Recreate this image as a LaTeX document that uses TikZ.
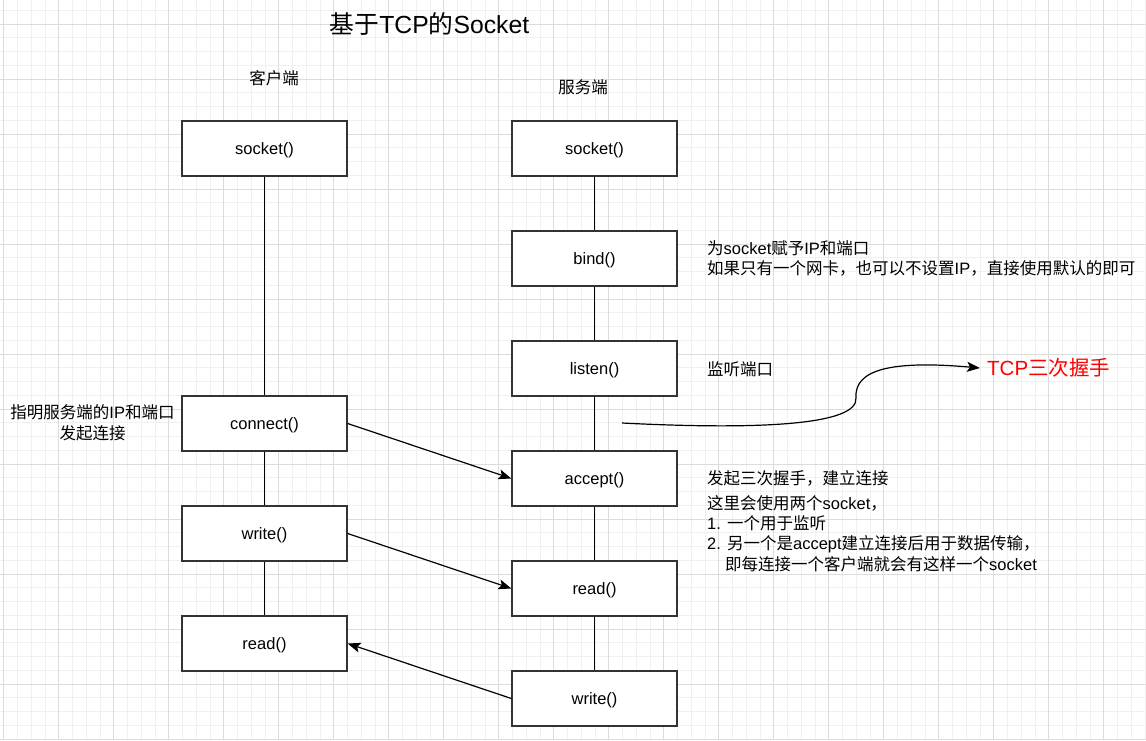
\documentclass[tikz,border=0pt]{standalone}
\usepackage{fontspec}
\setmainfont{Liberation Sans}
\newfontfamily\cjk{Noto Sans CJK SC}
\newcommand\zh[1]{{\cjk #1}}
\usetikzlibrary{arrows.meta}
\definecolor{gridminor}{HTML}{F0F0F0}
\definecolor{gridmajor}{HTML}{DCDCDC}
\definecolor{boxline}{HTML}{333333}
\tikzset{
  stepbox/.style={draw=boxline, line width=1.3pt, fill=white, minimum width=165pt, minimum height=55pt, inner sep=0pt, text height=13pt, text depth=1.4pt, font=\fontsize{16.5}{20}\selectfont},
  life/.style={draw=black, line width=1.3pt},
  msg/.style={draw=black, line width=1.2pt, -{Stealth[length=13pt,width=10pt,inset=3pt]}},
  note/.style={anchor=west, inner sep=0pt, font=\fontsize{16.5}{20}\selectfont},
  lbl/.style={inner sep=0pt, font=\fontsize{16.5}{20}\selectfont},
}
\begin{document}
\begin{tikzpicture}[x=1pt,y=-1pt]
\useasboundingbox (0,0) rectangle (1146,740);
\fill[white] (0,0) rectangle (1146,740);
% grid
\foreach \i in {0,...,84} {
  \draw[gridminor, line width=0.8pt] ({3.7+13.75*\i},0) -- ({3.7+13.75*\i},740);
}
\foreach \j in {0,...,54} {
  \draw[gridminor, line width=0.8pt] (0,{10.25+13.75*\j}) -- (1146,{10.25+13.75*\j});
}
\foreach \i in {0,...,21} {
  \draw[gridmajor, line width=0.8pt] ({3.7+55*\i},0) -- ({3.7+55*\i},740);
}
\foreach \j in {0,...,13} {
  \draw[gridmajor, line width=0.8pt] (0,{24+55*\j}) -- (1146,{24+55*\j});
}
% titles
\node[inner sep=0pt, font=\fontsize{24.75}{28}\selectfont] (title) at (429.5,24) {\zh{基于}TCP\zh{的}Socket};
\node[lbl] (client) at (274,78) {\zh{客户端}};
\node[lbl] (server) at (583,87) {\zh{服务端}};
% client boxes
\node[stepbox] (csocket) at (264.5,148.5) {socket()};
\node[stepbox] (cconnect) at (264.5,423.5) {connect()};
\node[stepbox] (cwrite) at (264.5,533.5) {write()};
\node[stepbox] (cread) at (264.5,643.5) {read()};
% server boxes
\node[stepbox] (ssocket) at (594.5,148.5) {socket()};
\node[stepbox] (sbind) at (594.5,258.5) {bind()};
\node[stepbox] (slisten) at (594.5,368.5) {listen()};
\node[stepbox] (saccept) at (594.5,478.5) {accept()};
\node[stepbox] (sread) at (594.5,588.5) {read()};
\node[stepbox] (swrite) at (594.5,698.5) {write()};
% lifelines
\draw[life] (csocket) -- (cconnect);
\draw[life] (cconnect) -- (cwrite);
\draw[life] (cwrite) -- (cread);
\draw[life] (ssocket) -- (sbind);
\draw[life] (sbind) -- (slisten);
\draw[life] (slisten) -- (saccept);
\draw[life] (saccept) -- (sread);
\draw[life] (sread) -- (swrite);
% messages
\draw[msg] (cconnect.east) -- (saccept.west);
\draw[msg] (cwrite.east) -- (sread.west);
\draw[msg] (swrite.west) -- (cread.east);
% handshake curve
\coordinate (hsStart) at (622,423);
\coordinate (hsTip) at (980,368);
\draw[msg] (hsStart) .. controls (760,430) and (858,425) .. (856,398) .. controls (854,370) and (890,360) .. (hsTip);
\node[anchor=west, inner sep=0pt, text=red, font=\fontsize{20.5}{24}\selectfont] (tcp) at (987,368) {TCP\zh{三次握手}};
% notes
\node[note] (n1) at (707,248) {\zh{为}socket\zh{赋予}IP\zh{和端口}};
\node[note] (n2) at (707,268.5) {\zh{如果只有一个网卡，也可以不设置}IP\zh{，直接使用默认的即可}};
\node[note] (n3) at (707,369) {\zh{监听端口}};
\node[note] (n4) at (707,478) {\zh{发起三次握手，建立连接}};
\node[note] (n5) at (707,503) {\zh{这里会使用两个}socket\zh{，}};
\node[note] (n6) at (707,523) {1. \zh{一个用于监听}};
\node[note] (n7) at (707,544) {2. \zh{另一个是}accept\zh{建立连接后用于数据传输，}};
\node[note] (n8) at (725,564) {\zh{即每连接一个客户端就会有这样一个}socket};
\node[lbl, align=center] (cnote) at (92.5,423) {\zh{指明服务端的}IP\zh{和端口}\\[1pt]\zh{发起连接}};
\end{tikzpicture}
\end{document}
